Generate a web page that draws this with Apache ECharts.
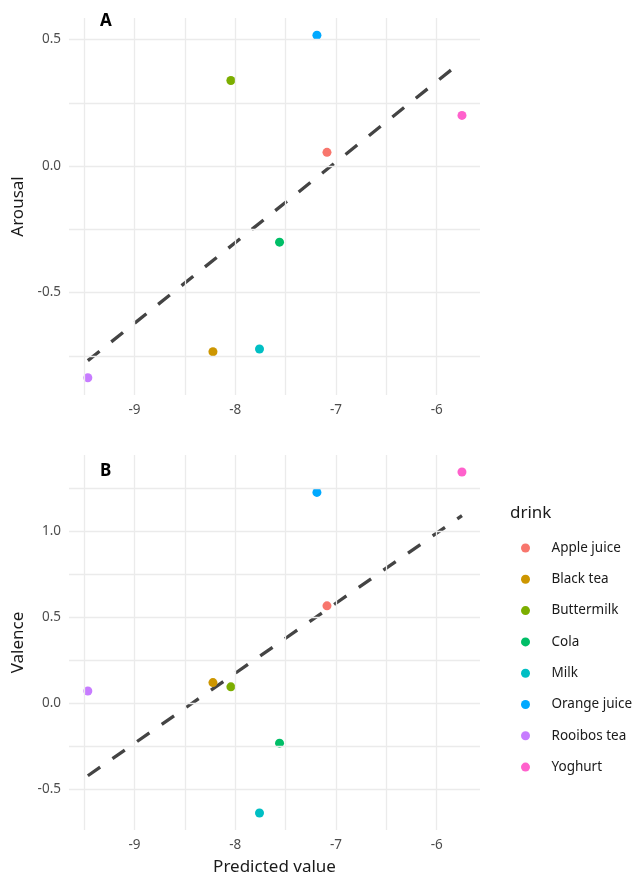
<!DOCTYPE html>
<html>
<head>
<meta charset="utf-8">
<script src="https://cdn.jsdelivr.net/npm/echarts@6/dist/echarts.min.js"></script>
<style>
  html, body { margin: 0; padding: 0; background: #fff; }
  #chart { width: 635px; height: 874px; }
</style>
</head>
<body>
<div id="chart"></div>
<script>
// data
const drinks = ['Apple juice', 'Black tea', 'Buttermilk', 'Cola', 'Milk', 'Orange juice', 'Rooibos tea', 'Yoghurt']
const colors = ['#F8766D', '#CD9600', '#7CAE00', '#00BE67', '#00BFC4', '#00A9FF', '#C77CFF', '#FF61CC']
const predicted = [-7.089, -8.221, -8.043, -7.560, -7.759, -7.189, -9.463, -5.749]
const arousal = [0.054, -0.734, 0.338, -0.301, -0.723, 0.517, -0.837, 0.200]
const valence = [0.567, 0.120, 0.095, -0.233, -0.640, 1.228, 0.071, 1.347]
// fitted lines (end points)
const fitArousal = [[-9.463, -0.769], [-5.749, 0.414]]
const fitValence = [[-9.463, -0.423], [-5.749, 1.093]]
// ticks and grid lines
const xTicks = [-9, -8, -7, -6]
const xGrid = [-9.5, -9, -8.5, -8, -7.5, -7, -6.5, -6]
const yTicksA = [-0.5, 0, 0.5]
const yGridA = [-0.75, -0.5, -0.25, 0, 0.25, 0.5]
const yTicksB = [-0.5, 0, 0.5, 1.0]
const yGridB = [-0.5, -0.25, 0, 0.25, 0.5, 0.75, 1.0, 1.25]

const font = 'Noto Sans'
const gridColor = '#EBEBEB'

const chart = echarts.init(document.getElementById('chart'), null, { renderer: 'canvas' })

function xAxisFor(gridIndex, showName) {
  return {
    type: 'value',
    gridIndex: gridIndex,
    min: -9.65,
    max: -5.57,
    name: showName ? 'Predicted value' : '',
    nameLocation: 'middle',
    nameGap: 29,
    nameTextStyle: { fontFamily: font, fontSize: 17, color: '#1a1a1a' },
    axisLine: { show: false },
    axisTick: { show: false, customValues: xTicks },
    splitLine: { show: false },
    axisLabel: {
      customValues: xTicks,
      margin: 8,
      fontFamily: font,
      fontSize: 13.5,
      color: '#4D4D4D',
      formatter: (v) => String(v)
    }
  }
}

function yAxisFor(gridIndex, name, min, max, ticks) {
  return {
    type: 'value',
    gridIndex: gridIndex,
    min: min,
    max: max,
    name: name,
    nameLocation: 'middle',
    nameGap: 35,
    nameTextStyle: { fontFamily: font, fontSize: 17, color: '#1a1a1a' },
    axisLine: { show: false },
    axisTick: { show: false, customValues: ticks },
    splitLine: { show: false },
    axisLabel: {
      customValues: ticks,
      margin: 8,
      fontFamily: font,
      fontSize: 13.5,
      color: '#4D4D4D',
      formatter: (v) => v.toFixed(1)
    }
  }
}

function gridSeries(idx, yGrid) {
  return {
    type: 'scatter',
    xAxisIndex: idx,
    yAxisIndex: idx,
    data: [],
    silent: true,
    z: 0,
    markLine: {
      silent: true,
      symbol: 'none',
      label: { show: false },
      lineStyle: { color: gridColor, width: 1.3, type: 'solid' },
      emphasis: { disabled: true },
      data: xGrid.map((v) => ({ xAxis: v })).concat(yGrid.map((v) => ({ yAxis: v })))
    }
  }
}

function fitSeries(idx, pts) {
  return {
    type: 'line',
    xAxisIndex: idx,
    yAxisIndex: idx,
    data: pts,
    symbol: 'none',
    silent: true,
    z: 3,
    lineStyle: { color: '#444444', width: 3.3, type: [15, 15], cap: 'butt' }
  }
}

function pointSeries(idx, yValues) {
  return drinks.map((name, i) => ({
    type: 'scatter',
    name: name,
    xAxisIndex: idx,
    yAxisIndex: idx,
    symbolSize: 9,
    z: 4,
    itemStyle: { color: colors[i], opacity: 1 },
    data: [[predicted[i], yValues[i]]]
  }))
}

const series = [
  gridSeries(0, yGridA),
  gridSeries(1, yGridB),
  fitSeries(0, fitArousal),
  fitSeries(1, fitValence)
].concat(pointSeries(0, arousal), pointSeries(1, valence))

const option = {
  backgroundColor: '#fff',
  animation: false,
  color: colors,
  grid: [
    { left: 69, top: 18, width: 411, height: 377, outerBoundsMode: 'none', containLabel: false },
    { left: 69, top: 455, width: 411, height: 375, outerBoundsMode: 'none', containLabel: false }
  ],
  xAxis: [xAxisFor(0, false), xAxisFor(1, true)],
  yAxis: [
    yAxisFor(0, 'Arousal', -0.905, 0.585, yTicksA),
    yAxisFor(1, 'Valence', -0.739, 1.446, yTicksB)
  ],
  legend: {
    orient: 'vertical',
    left: 516,
    top: 535,
    icon: 'circle',
    itemWidth: 42,
    itemHeight: 9,
    itemGap: 15.3,
    data: drinks,
    textStyle: { fontFamily: font, fontSize: 13.5, color: '#1a1a1a', lineHeight: 16 }
  },
  graphic: [
    {
      type: 'text', left: 100, top: 13,
      style: { text: 'A', fontFamily: font, fontSize: 17, fontWeight: 'bold', fill: '#000' }
    },
    {
      type: 'text', left: 100, top: 463,
      style: { text: 'B', fontFamily: font, fontSize: 17, fontWeight: 'bold', fill: '#000' }
    },
    {
      type: 'text', left: 510, top: 505,
      style: { text: 'drink', fontFamily: font, fontSize: 17, fill: '#1a1a1a' }
    }
  ],
  series: series
}

chart.setOption(option)
</script>
</body>
</html>
